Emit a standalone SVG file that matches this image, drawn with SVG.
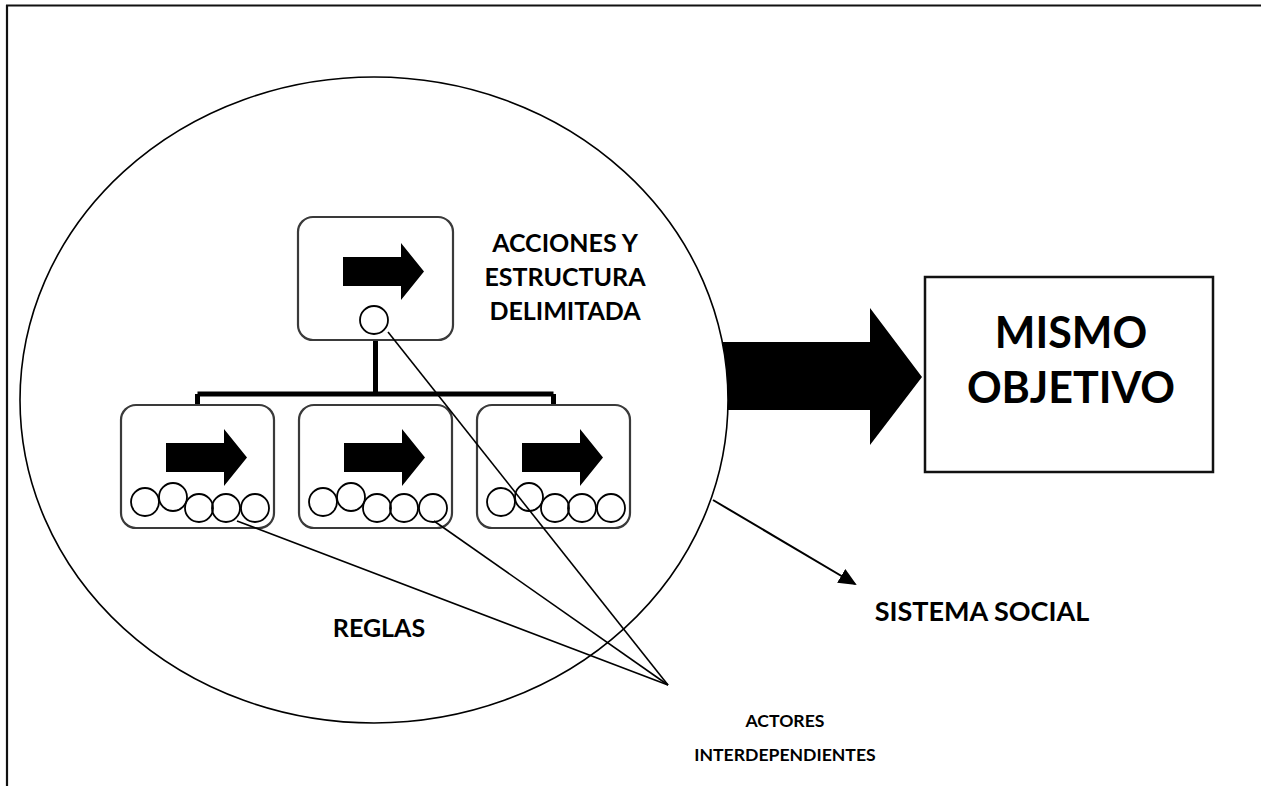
<svg xmlns="http://www.w3.org/2000/svg" width="1261" height="786" viewBox="0 0 1261 786">
  <style>
    .frame { stroke: #111; stroke-width: 2.2; fill: none; }
    .card { fill: #fff; stroke: #3a3a3a; stroke-width: 2.2; }
    .dot { fill: none; stroke: #000; stroke-width: 1.8; }
    .tie { stroke: #000; stroke-width: 1.6; fill: none; }
    .bar { stroke: #000; stroke-width: 5; fill: none; }
    .lbl { font-family: Lato, "Liberation Sans", sans-serif; font-weight: 700; fill: #000; text-anchor: middle; }
    .big { font-size: 43px; }
    .mid { font-size: 25px; }
    .sml { font-size: 17.6px; }
  </style>
  <defs>
    <!-- block arrow drawn inside each card, origin at card top-left -->
    <path id="blockArrow" d="M45,39 H103 V25 L126,53.5 L103,82 V68 H45 Z" fill="#000"/>
    <!-- row of five actor circles at the bottom of a card -->
    <g id="actorRow">
      <circle class="dot" cx="24" cy="97" r="14"/>
      <circle class="dot" cx="52" cy="92" r="14"/>
      <circle class="dot" cx="78" cy="103" r="14"/>
      <circle class="dot" cx="105" cy="103" r="14"/>
      <circle class="dot" cx="134" cy="103" r="14"/>
    </g>
    <marker id="head" viewBox="0 0 18 16" refX="16" refY="8" markerWidth="18" markerHeight="16" markerUnits="userSpaceOnUse" orient="auto">
      <path d="M0,0 L18,8 L0,16 Z" fill="#000"/>
    </marker>
  </defs>

  <!-- page frame: top and left edges -->
  <path class="frame" d="M6,5.5 H1261 M7,5 V786"/>

  <!-- big arrow toward the objective (tail hidden behind the system circle) -->
  <g id="arrow-objetivo">
    <path d="M690,342 H870 V308 L922,377 L870,445 V410 H690 Z" fill="#000"/>
  </g>

  <!-- social system boundary -->
  <g id="sistema">
    <ellipse cx="374" cy="400" rx="354" ry="323" fill="#fff" stroke="#000" stroke-width="1.6"/>
  </g>

  <!-- hierarchy bars -->
  <g id="jerarquia">
    <path class="bar" d="M375.5,340 V394"/>
    <path class="bar" d="M197.5,394 H553.5"/>
    <path class="bar" stroke-width="4" d="M197.5,394 V406 M553.5,394 V406"/>
  </g>

  <!-- top card -->
  <g id="card-top">
    <rect class="card" x="298" y="217" width="155" height="123" rx="15"/>
    <use href="#blockArrow" transform="translate(298,218)"/>
    <circle cx="374" cy="320" r="14" fill="#fff" stroke="#000" stroke-width="1.8"/>
  </g>

  <!-- bottom cards -->
  <g id="card-1">
    <rect class="card" x="121" y="405" width="153" height="123" rx="15"/>
    <use href="#blockArrow" transform="translate(121,404)"/>
    <use href="#actorRow" transform="translate(121,405)"/>
  </g>
  <g id="card-2">
    <rect class="card" x="299" y="405" width="153" height="123" rx="15"/>
    <use href="#blockArrow" transform="translate(299,404)"/>
    <use href="#actorRow" transform="translate(299,405)"/>
  </g>
  <g id="card-3">
    <rect class="card" x="477" y="405" width="153" height="123" rx="15"/>
    <use href="#blockArrow" transform="translate(477,404)"/>
    <use href="#actorRow" transform="translate(477,405)"/>
  </g>

  <!-- objective box -->
  <g id="objetivo">
    <rect x="925" y="277" width="288" height="195" fill="#fff" stroke="#111" stroke-width="2.5"/>
    <text class="lbl big" x="1071" y="348">MISMO</text>
    <text class="lbl big" x="1071" y="403">OBJETIVO</text>
  </g>

  <!-- connectors -->
  <g id="connectors">
    <path class="tie" d="M388,332 L668,685"/>
    <path class="tie" d="M237,521 L668,685"/>
    <path class="tie" d="M434,521 L668,685"/>
    <path d="M713,500 L855,584" stroke="#000" stroke-width="2" fill="none" marker-end="url(#head)"/>
  </g>

  <!-- labels -->
  <g id="label-acciones">
    <text class="lbl mid" x="565" y="252">ACCIONES Y</text>
    <text class="lbl mid" x="565" y="286">ESTRUCTURA</text>
    <text class="lbl mid" x="565" y="320">DELIMITADA</text>
  </g>
  <g id="label-reglas">
    <text class="lbl mid" x="379" y="637">REGLAS</text>
  </g>
  <g id="label-sistema">
    <text class="lbl mid" x="982" y="621" style="font-size:27px">SISTEMA SOCIAL</text>
  </g>
  <g id="label-actores">
    <text class="lbl sml" x="785" y="727">ACTORES</text>
    <text class="lbl sml" x="785" y="761">INTERDEPENDIENTES</text>
  </g>
</svg>
